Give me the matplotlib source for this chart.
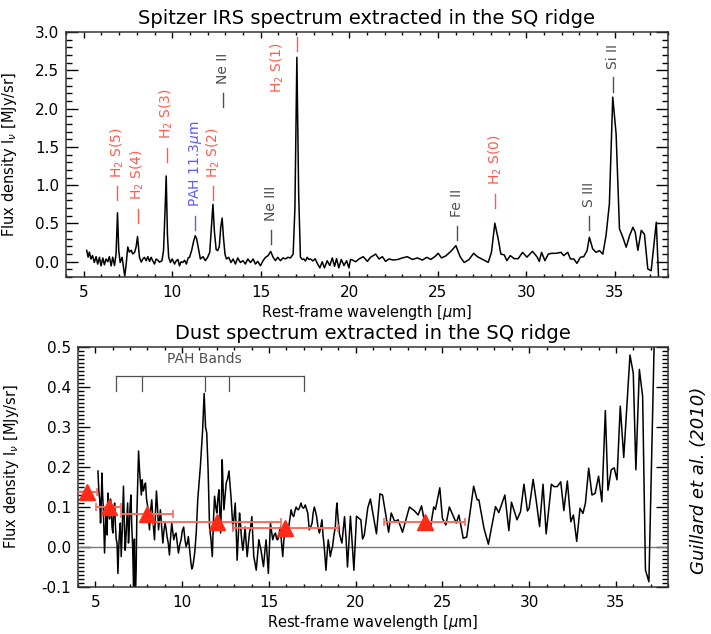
"""Spitzer IRS SQ ridge: line spectrum + dust spectrum (Guillard et al. 2010)."""
import matplotlib
matplotlib.use("Agg")
import matplotlib.pyplot as plt
from matplotlib.ticker import MultipleLocator, FormatStrFormatter

plt.rcParams.update({
    "font.family": "DejaVu Sans", "font.size": 10.5,
    "xtick.direction": "in", "ytick.direction": "in",
    "xtick.top": True, "ytick.right": True,
    "axes.linewidth": 1.1, "axes.edgecolor": "#333333",
})
RED, BLUE, GRAY = "#ff5a4e", "#5a5aff", "#505050"

# --- top panel: full IRS spectrum ---
wl_top = [5.17, 5.25, 5.32, 5.41, 5.5, 5.6, 5.7, 5.79, 5.89, 5.98, 6.08, 6.17, 6.26, 6.36,
          6.45, 6.55, 6.64, 6.74, 6.83, 6.91, 6.98, 7.06, 7.17, 7.25, 7.32, 7.4, 7.49, 7.58,
          7.68, 7.77, 7.87, 7.96, 8.04, 8.15, 8.25, 8.34, 8.43, 8.53, 8.62, 8.72, 8.81, 8.9,
          9.0, 9.09, 9.19, 9.28, 9.42, 9.51, 9.6, 9.66, 9.73, 9.8, 9.9, 10.0, 10.13, 10.23,
          10.32, 10.41, 10.5, 10.6, 10.7, 10.8, 10.9, 10.98, 11.1, 11.2, 11.3, 11.38, 11.46,
          11.59, 11.74, 11.87, 12.0, 12.12, 12.2, 12.3, 12.38, 12.48, 12.57, 12.66, 12.74,
          12.82, 12.9, 12.98, 13.06, 13.19, 13.32, 13.44, 13.57, 13.7, 13.85, 14.0, 14.13,
          14.27, 14.42, 14.57, 14.7, 14.83, 14.98, 15.13, 15.27, 15.42, 15.56, 15.7, 15.83,
          15.96, 16.11, 16.26, 16.4, 16.53, 16.68, 16.83, 16.93, 17.04, 17.14, 17.24, 17.35,
          17.43, 17.53, 17.62, 17.72, 17.81, 17.95, 18.07, 18.19, 18.34, 18.47, 18.6, 18.75,
          18.9, 19.04, 19.17, 19.28, 19.41, 19.55, 19.7, 19.85, 19.98, 20.07, 20.2, 20.36,
          20.55, 20.79, 21.02, 21.2, 21.49, 21.68, 21.87, 22.05, 22.24, 22.49, 22.75, 23.0,
          23.28, 23.56, 23.85, 24.13, 24.38, 24.6, 24.83, 25.02, 25.21, 25.45, 25.74, 26.02,
          26.26, 26.49, 26.77, 27.02, 27.24, 27.53, 27.85, 28.03, 28.22, 28.41, 28.56, 28.75,
          28.9, 29.09, 29.32, 29.54, 29.79, 30.03, 30.35, 30.6, 30.73, 30.86, 31.05, 31.24,
          31.43, 31.68, 31.96, 32.11, 32.34, 32.49, 32.68, 32.86, 33.05, 33.24, 33.43, 33.56,
          33.75, 33.94, 34.13, 34.32, 34.5, 34.69, 34.88, 35.07, 35.26, 35.45, 35.64, 35.83,
          36.02, 36.15, 36.3, 36.49, 36.67, 36.86, 37.05, 37.34, 37.52]
flux_top = [0.148, 0.06, 0.126, 0.036, 0.08, -0.009, 0.067, -0.031, 0.058, -0.054, 0.049, -0.04,
            0.036, 0.0, 0.067, -0.054, 0.06, -0.05, 0.103, 0.64, 0.148, -0.01, 0.058, -0.076,
            -0.19, -0.03, 0.193, 0.126, 0.15, 0.103, 0.12, 0.193, 0.33, 0.058, -0.005, 0.036,
            0.058, 0.013, 0.067, 0.005, 0.058, 0.013, -0.03, 0.036, 0.02, -0.005, 0.013, 0.148,
            0.7, 1.12, 0.35, 0.058, -0.01, 0.036, -0.03, 0.013, 0.03, -0.054, 0.0, -0.01, 0.02,
            -0.03, 0.05, 0.058, 0.15, 0.26, 0.34, 0.3, 0.2, 0.036, 0.066, 0.014, 0.058, 0.123,
            0.4, 0.75, 0.4, 0.16, 0.145, 0.2, 0.45, 0.57, 0.3, 0.1, 0.036, 0.058, -0.01, 0.036,
            -0.03, 0.05, -0.01, 0.014, -0.03, 0.036, -0.01, 0.036, -0.03, 0.005, -0.052, 0.014,
            0.058, 0.08, 0.135, 0.058, 0.014, 0.058, 0.014, 0.05, 0.036, 0.058, 0.05, 0.1, 0.7,
            2.67, 0.9, 0.06, 0.03, 0.036, 0.01, 0.058, 0.03, 0.036, 0.01, 0.04, -0.02, -0.08,
            0.0, -0.08, 0.013, -0.05, 0.05, -0.06, 0.04, -0.08, 0.03, -0.05, 0.013, -0.08, 0.03,
            0.02, 0.0, 0.036, 0.066, 0.005, 0.058, 0.1, 0.036, 0.066, 0.005, 0.036, 0.022, 0.03,
            0.05, 0.066, 0.03, 0.05, 0.022, 0.058, 0.03, 0.066, 0.11, 0.05, 0.076, 0.136, 0.21,
            0.066, -0.01, 0.03, 0.11, 0.066, 0.03, -0.008, 0.123, 0.503, 0.298, 0.1, 0.09, 0.014,
            0.08, 0.04, 0.04, 0.123, 0.06, 0.136, 0.065, 0.005, 0.123, 0.014, 0.1, 0.11, 0.11,
            0.123, 0.08, 0.123, 0.036, 0.036, -0.021, 0.058, 0.066, 0.145, 0.32, 0.167, 0.123,
            0.145, 0.1, 0.34, 0.756, 2.15, 1.67, 0.43, 0.32, 0.19, 0.34, 0.45, 0.385, 0.15, 0.41,
            0.36, -0.095, -0.117, 0.516, -0.5]

# line identifications: dash x, dash bottom y, text x, text bottom y
line_txt = ["H$_2$ S(5)", "H$_2$ S(4)", "H$_2$ S(3)", "PAH 11.3$\\mu$m", "H$_2$ S(2)",
            "Ne II", "Ne III", "H$_2$ S(1)", "Fe II", "H$_2$ S(0)", "S III", "Si II"]
line_x = [6.9, 8.05, 9.68, 11.3, 12.3, 12.85, 15.6, 17.02, 26.07, 28.22, 33.56, 34.88]
line_y0 = [0.8, 0.5, 1.3, 0.41, 0.8, 2.02, 0.23, 2.75, 0.28, 0.7, 0.41, 2.22]
line_tx = [6.9, 8.05, 9.68, 11.3, 12.3, 12.85, 15.6, 15.92, 26.07, 28.22, 33.56, 34.88]
line_ty = [1.1, 0.8, 1.6, 0.71, 1.1, 2.32, 0.53, 2.2, 0.58, 1.0, 0.71, 2.52]
line_col = [RED, RED, RED, BLUE, RED, GRAY, GRAY, RED, GRAY, RED, GRAY, GRAY]

# --- bottom panel: dust continuum ---
wl_dust = [5.15, 5.2, 5.25, 5.3, 5.34, 5.38, 5.42, 5.46, 5.5, 5.53, 5.58, 5.63, 5.68, 5.72,
           5.77, 5.82, 5.87, 5.92, 5.96, 6.01, 6.06, 6.11, 6.15, 6.2, 6.25, 6.3, 6.35, 6.39,
           6.44, 6.49, 6.55, 6.62, 6.67, 6.72, 6.77, 6.82, 6.86, 6.91, 6.95, 7.0, 7.05, 7.1,
           7.15, 7.2, 7.25, 7.3, 7.35, 7.39, 7.44, 7.49, 7.55, 7.6, 7.65, 7.7, 7.75, 7.79, 7.84,
           7.89, 7.95, 8.02, 8.07, 8.12, 8.18, 8.25, 8.33, 8.41, 8.46, 8.52, 8.58, 8.64, 8.7,
           8.75, 8.82, 8.89, 8.95, 9.02, 9.08, 9.13, 9.2, 9.27, 9.33, 9.4, 9.46, 9.52, 9.58,
           9.65, 9.72, 9.79, 9.86, 9.94, 10.01, 10.09, 10.16, 10.23, 10.3, 10.36, 10.44, 10.51,
           10.56, 10.61, 10.68, 10.74, 10.82, 10.9, 10.98, 11.05, 11.12, 11.18, 11.27, 11.35,
           11.42, 11.5, 11.58, 11.66, 11.74, 11.8, 11.87, 11.94, 12.0, 12.06, 12.12, 12.17,
           12.22, 12.27, 12.31, 12.36, 12.41, 12.48, 12.54, 12.62, 12.7, 12.77, 12.83, 12.88,
           12.93, 13.0, 13.06, 13.12, 13.17, 13.24, 13.31, 13.36, 13.4, 13.45, 13.5, 13.57,
           13.63, 13.69, 13.75, 13.82, 13.88, 13.95, 14.02, 14.08, 14.13, 14.2, 14.27, 14.35,
           14.42, 14.48, 14.55, 14.62, 14.69, 14.77, 14.84, 14.9, 14.97, 15.03, 15.09, 15.15,
           15.22, 15.3, 15.38, 15.45, 15.51, 15.58, 15.66, 15.73, 15.8, 15.85, 15.9, 15.95,
           16.0, 16.07, 16.14, 16.21, 16.28, 16.36, 16.43, 16.5, 16.57, 16.63, 16.7, 16.78,
           16.85, 16.92, 16.99, 17.05, 17.1, 17.17, 17.24, 17.29, 17.33, 17.41, 17.49, 17.55,
           17.62, 17.68, 17.75, 17.83, 17.91, 17.99, 18.06, 18.12, 18.19, 18.24, 18.29, 18.35,
           18.42, 18.48, 18.54, 18.6, 18.67, 18.75, 18.83, 18.88, 18.92, 18.99, 19.06, 19.14,
           19.21, 19.28, 19.36, 19.45, 19.53, 19.7, 19.9, 20.05, 20.3, 20.4, 20.5, 20.7, 20.85,
           21.2, 21.4, 21.55, 21.9, 22.05, 22.25, 22.45, 22.7, 23.1, 23.4, 23.6, 23.8, 24.0,
           24.3, 24.5, 24.6, 24.85, 25.0, 25.2, 25.4, 25.6, 25.8, 25.95, 26.2, 26.4, 26.8,
           27.0, 27.1, 27.4, 27.65, 28.06, 28.25, 28.6, 28.83, 28.98, 29.3, 29.5, 29.7, 29.9,
           30.0, 30.23, 30.4, 30.6, 30.8, 30.98, 31.28, 31.43, 31.62, 31.82, 32.0, 32.2, 32.4,
           32.55, 32.74, 32.93, 33.1, 33.24, 33.43, 33.62, 33.8, 34.0, 34.19, 34.39, 34.54,
           34.73, 34.9, 35.06, 35.25, 35.45, 35.81, 36.0, 36.15, 36.35, 36.54, 36.7, 36.9,
           37.25]
flux_dust = [0.19, 0.14, 0.12, 0.06, 0.11, 0.185, 0.13, 0.095, 0.03, -0.015, 0.05, 0.078,
             0.03, 0.135, 0.09, 0.07, 0.12, 0.1, 0.05, 0.035, 0.09, 0.11, 0.06, 0.02, 0.01,
             -0.066, 0.0, 0.035, 0.06, -0.024, 0.04, 0.152, 0.06, -0.008, 0.03, 0.076, 0.11,
             0.01, 0.04, 0.1, 0.13, 0.05, 0.0, -0.098, 0.02, -0.14, -0.06, 0.076, 0.16, 0.24,
             0.19, 0.16, 0.13, 0.168, 0.14, 0.143, 0.155, 0.16, 0.12, 0.1, 0.07, 0.043, 0.09,
             0.118, 0.06, 0.018, 0.08, 0.14, 0.1, 0.043, 0.07, 0.093, 0.05, 0.01, 0.04, 0.06,
             0.045, 0.026, 0.01, -0.02, 0.02, 0.06, 0.04, 0.018, 0.03, 0.035, 0.01, -0.015,
             0.005, 0.018, 0.04, 0.05, 0.02, 0.001, 0.01, 0.026, -0.01, -0.04, -0.055, -0.05,
             -0.03, -0.008, 0.04, 0.118, 0.16, 0.2, 0.25, 0.29, 0.384, 0.3, 0.285, 0.19, 0.05,
             0.02, -0.024, 0.06, 0.127, 0.1, 0.085, 0.12, 0.143, 0.09, 0.035, 0.12, 0.218,
             0.15, 0.093, 0.13, 0.16, 0.17, 0.19, 0.15, 0.118, 0.08, 0.043, 0.08, 0.11, 0.04,
             -0.033, 0.03, 0.085, 0.06, 0.035, 0.01, -0.008, 0.02, 0.05, 0.01, -0.024, 0.01,
             0.035, 0.05, 0.076, 0.02, -0.024, -0.04, -0.058, -0.02, 0.018, 0.005, -0.008,
             -0.03, -0.049, -0.01, 0.018, -0.02, -0.066, 0.0, 0.06, 0.04, 0.018, 0.03, 0.035,
             0.02, 0.018, 0.03, 0.05, 0.01, -0.024, 0.01, 0.035, 0.05, 0.06, 0.045, 0.05, 0.07,
             0.093, 0.08, 0.076, 0.09, 0.1, 0.095, 0.093, 0.1, 0.11, 0.1, 0.097, 0.1, 0.105,
             0.095, 0.085, 0.06, 0.043, 0.05, 0.06, 0.085, 0.1, 0.09, 0.076, 0.05, 0.035, 0.05,
             0.068, 0.03, 0.001, -0.03, -0.058, -0.02, 0.018, 0.0, -0.024, -0.01, 0.001, 0.03,
             0.05, 0.09, 0.11, 0.07, 0.035, 0.02, 0.01, 0.04, 0.076, 0.02, -0.05, 0.077, -0.058,
             0.077, 0.068, 0.02, 0.03, 0.098, 0.12, 0.033, 0.133, 0.13, 0.037, 0.085, 0.064,
             0.068, 0.037, 0.1, 0.09, 0.08, 0.103, 0.055, 0.046, 0.1, 0.094, 0.148, 0.072,
             0.055, 0.1, 0.08, 0.06, 0.08, 0.022, 0.025, 0.152, 0.118, 0.118, 0.046, 0.007,
             0.101, 0.086, 0.13, 0.041, 0.112, 0.068, 0.088, 0.157, 0.09, 0.097, 0.169, 0.118,
             0.051, 0.157, 0.033, 0.157, 0.151, 0.151, 0.163, 0.091, 0.165, 0.063, 0.08, 0.014,
             0.097, 0.084, 0.109, 0.197, 0.13, 0.134, 0.177, 0.113, 0.341, 0.142, 0.193, 0.198,
             0.168, 0.352, 0.224, 0.48, 0.434, 0.193, 0.444, 0.376, -0.057, -0.087, 0.6]

# broadband-like points (red triangles) with horizontal bars
pt_x = [4.5, 5.78, 8.0, 12.0, 15.95, 23.97]
pt_y = [0.137, 0.101, 0.082, 0.062, 0.048, 0.063]
pt_xerr = [0.6, 0.72, 1.5, 3.7, 3.03, 2.33]

# PAH band positions for the bracket
pah_bands = [6.2, 7.7, 11.3, 12.7, 17.0]


def style_axes(ax, ymajor, yminor, ylim):
    ax.set_xlim(4, 38); ax.set_ylim(*ylim)
    ax.xaxis.set_major_locator(MultipleLocator(5))
    ax.xaxis.set_minor_locator(MultipleLocator(1))
    ax.yaxis.set_major_locator(MultipleLocator(ymajor))
    ax.yaxis.set_minor_locator(MultipleLocator(yminor))
    ax.yaxis.set_major_formatter(FormatStrFormatter("%.1f"))
    ax.tick_params(axis="x", which="major", length=4, width=1, pad=6, labelsize=11)
    ax.tick_params(axis="x", which="minor", length=2, width=1)
    ax.tick_params(axis="y", which="major", length=8.5, width=1, pad=5, labelsize=11)
    ax.tick_params(axis="y", which="minor", length=4.2, width=1)
    ax.set_xlabel("Rest-frame wavelength [$\\mu$m]", fontsize=10.5, labelpad=2)
    ax.set_ylabel("Flux density I$_\\nu$ [MJy/sr]", fontsize=10.5)


fig = plt.figure(figsize=(7.11, 6.34), dpi=100)
ax1 = fig.add_axes([0.0928, 0.563, 0.8467, 0.3865])
ax2 = fig.add_axes([0.1097, 0.0741, 0.8298, 0.3786])

# top
ax1.plot(wl_top, flux_top, color="black", lw=1.1)
for t, x0, y0, tx, ty, c in zip(line_txt, line_x, line_y0, line_tx, line_ty, line_col):
    ax1.plot([x0, x0], [y0, y0 + 0.19], color=c, lw=1)
    ax1.text(tx, ty, t, rotation=90, ha="center", va="bottom", color=c, fontsize=10)
style_axes(ax1, 0.5, 0.1, (-0.2, 3.0))
ax1.set_title("Spitzer IRS spectrum extracted in the SQ ridge", fontsize=14, pad=6)
ax1.yaxis.set_label_coords(-0.078, 0.5)

# bottom
ax2.axhline(0, color="#777777", lw=1)
ax2.plot(wl_dust, flux_dust, color="black", lw=1.1)
ax2.errorbar(pt_x, pt_y, xerr=pt_xerr, fmt="none", ecolor="#ff6a5e", elinewidth=1.4,
             capsize=3, capthick=1.2, zorder=4)
ax2.plot(pt_x, pt_y, "^", color="#ff2a18", ms=11, zorder=5)
ax2.plot([pah_bands[0], pah_bands[-1]], [0.428, 0.428], color=GRAY, lw=0.9)
for b in pah_bands:
    ax2.plot([b, b], [0.39, 0.428], color=GRAY, lw=0.9)
ax2.text(11.3, 0.452, "PAH Bands", ha="center", va="bottom", color=GRAY, fontsize=10)
style_axes(ax2, 0.1, 0.01, (-0.1, 0.5))
ax2.set_title("Dust spectrum extracted in the SQ ridge", fontsize=14, pad=6)
ax2.yaxis.set_label_coords(-0.096, 0.5)

fig.text(0.983, 0.243, "Guillard et al. (2010)", rotation=90, style="italic",
         fontsize=13, ha="center", va="center")

plt.savefig("out.png", dpi=100)
plt.close()
